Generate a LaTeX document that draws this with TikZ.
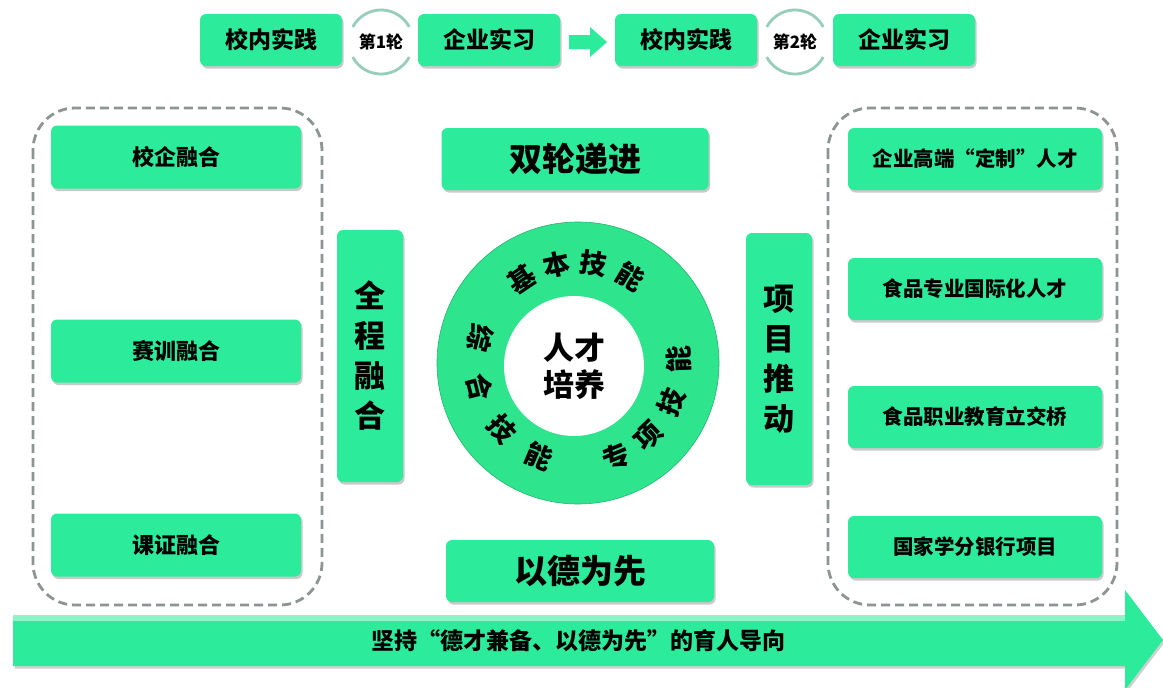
\documentclass[tikz,border=0pt]{standalone}
\usepackage{fontspec}
\setmainfont{Noto Sans CJK SC}
\usetikzlibrary{shadows}
\definecolor{boxg}{RGB}{44,236,156}
\definecolor{ringg}{RGB}{46,228,140}
\definecolor{dashg}{RGB}{140,148,148}
\definecolor{arcg}{RGB}{150,205,188}
\begin{document}
\begin{tikzpicture}[x=1pt,y=-1pt,
  gbox/.style={fill=boxg, rounded corners=6pt, text=black,
    drop shadow={shadow xshift=1.5pt, shadow yshift=-2.5pt, opacity=0.35, fill=black!60},
    font=\bfseries, inner sep=0pt, align=center},
  topbox/.style={gbox, minimum width=142pt, minimum height=52pt, font=\bfseries\fontsize{23}{27}\selectfont},
  sidebox/.style={gbox, minimum width=250pt, minimum height=63pt, font=\bfseries\fontsize{22}{26}\selectfont},
  rbox/.style={gbox, minimum width=254pt, minimum height=62pt, font=\bfseries\fontsize{20.5}{24}\selectfont},
  midbox/.style={gbox, minimum width=267pt, minimum height=62pt, font=\bfseries\fontsize{33}{38}\selectfont},
  vbox/.style={gbox, minimum width=66pt, minimum height=252pt, font=\bfseries\fontsize{31}{40}\selectfont},
  container/.style={draw=dashg, line width=2.8pt, dash pattern=on 9pt off 5pt, rounded corners=42pt},
  roundlbl/.style={font=\bfseries\fontsize{17}{19}\selectfont, inner sep=0pt, minimum size=60pt, circle},
  ringlbl/.style={font=\bfseries\fontsize{27}{30}\selectfont, inner sep=0pt},
  looparc/.style={draw=arcg, line width=2.8pt}
]
\useasboundingbox (0,0) rectangle (1163,688);
\fill[white] (0,0) rectangle (1163,688);

% top row
\node[topbox] (tp1) at (271,40) {校内实践};
\node[roundlbl] (r1) at (381,42) {第1轮};
\node[topbox] (ec1) at (489,40) {企业实习};
\coordinate (ar) at (588,42);
\fill[boxg] (ar) ++(-19,-7) -- ++(21,0) -- ++(0,-8) -- ++(17,15) -- ++(-17,15) -- ++(0,-8) -- ++(-21,0) -- cycle;
\node[topbox] (tp2) at (686,40) {校内实践};
\node[roundlbl] (r2) at (795,42) {第2轮};
\node[topbox] (ec2) at (904,40) {企业实习};
\foreach \r in {r1,r2}{
  \draw[looparc] (\r.center) ++({32*cos(-28)},{32*sin(-28)}) arc[start angle=-28, end angle=-152, radius=32];
  \draw[looparc] (\r.center) ++({32*cos(152)},{32*sin(152)}) arc[start angle=152, end angle=28, radius=32];
}

% containers
\draw[container] (33,108) rectangle (322,605);
\draw[container] (828,108) rectangle (1117,605);

% left boxes
\node[sidebox] (l1) at (176,157) {校企融合};
\node[sidebox] (l2) at (176,351) {赛训融合};
\node[sidebox] (l3) at (176,545) {课证融合};

% right boxes
\node[rbox] (q1) at (975,159) {企业高端“定制”人才};
\node[rbox] (q2) at (975,289) {食品专业国际化人才};
\node[rbox] (q3) at (975,417) {食品职业教育立交桥};
\node[rbox] (q4) at (975,547) {国家学分银行项目};

% center
\node[midbox] (sl) at (575,159) {双轮递进};
\node[midbox, minimum width=268pt] (yd) at (580,571) {以德为先};
\node[vbox] (qc) at (370,356) {全\\程\\融\\合};
\node[vbox] (xm) at (779,359) {项\\目\\推\\动};

% ring
\node[circle, fill=ringg, draw=ringg!80!black, line width=0.6pt, minimum size=282pt, inner sep=0pt] (ring) at (578,363) {};
\node[circle, fill=white, minimum size=140pt, inner sep=0pt, font=\bfseries\fontsize{31}{37}\selectfont, align=center] (core) at (574,366) {人才\\培养};
\foreach \t/\a in {基/124, 本/102, 技/81, 能/59}
  \node[ringlbl, rotate=\a-90] at ({578+101*cos(\a)},{363-101*sin(\a)}) {\t};
\foreach \t/\a in {综/166, 合/194, 技/221, 能/247}
  \node[ringlbl, rotate=\a+90] at ({578+101*cos(\a)},{363-101*sin(\a)}) {\t};
\foreach \t/\a in {专/-68, 项/-46, 技/-23, 能/2}
  \node[ringlbl, rotate=\a+90] at ({578+101*cos(\a)},{363-101*sin(\a)}) {\t};

% bottom arrow
\fill[boxg, drop shadow={shadow xshift=1.5pt, shadow yshift=-2.5pt, opacity=0.3, fill=black!60}]
  (13,615) -- (1125,615) -- (1125,590) -- (1163,640) -- (1125,690) -- (1125,666) -- (13,666) -- cycle;
\fill[boxg!55!white] (13,615) rectangle (1125,621);
\node[font=\bfseries\fontsize{23}{26}\selectfont] (bt) at (578,641) {坚持“德才兼备、以德为先”的育人导向};
\end{tikzpicture}
\end{document}
